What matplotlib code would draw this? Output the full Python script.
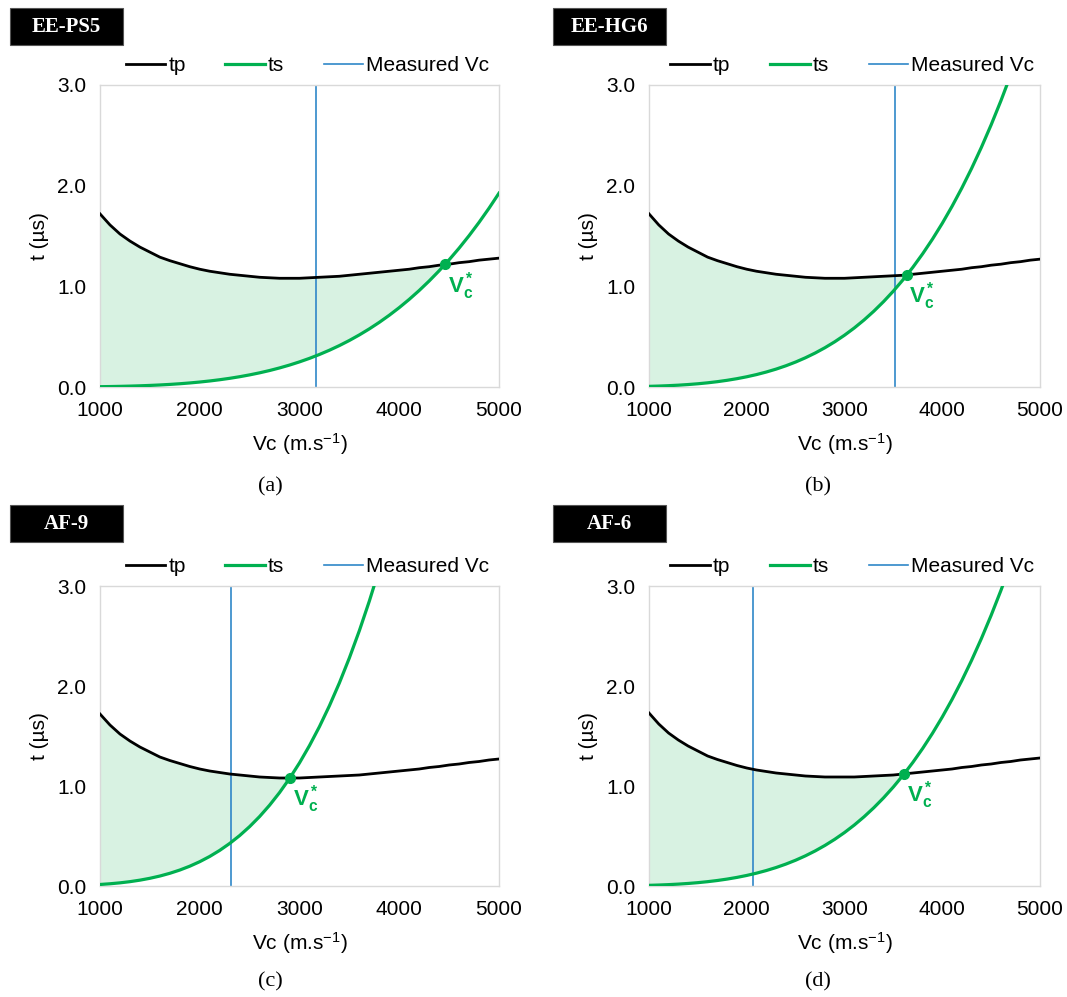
import matplotlib
matplotlib.use('Agg')
import matplotlib.pyplot as plt
from matplotlib.patches import Rectangle

plt.rcParams['font.family'] = 'Liberation Sans'
plt.rcParams['mathtext.fontset'] = 'custom'
plt.rcParams['mathtext.rm'] = 'Liberation Sans'
plt.rcParams['mathtext.bf'] = 'Liberation Sans:bold'
plt.rcParams['mathtext.it'] = 'Liberation Sans:italic'

# Cutting speed grid (m/s)
vc = [1000, 1100, 1200, 1300, 1400, 1500, 1600, 1700, 1800, 1900, 2000,
      2100, 2200, 2300, 2400, 2500, 2600, 2700, 2800, 2900, 3000,
      3100, 3200, 3300, 3400, 3500, 3600, 3700, 3800, 3900, 4000,
      4100, 4200, 4300, 4400, 4500, 4600, 4700, 4800, 4900, 5000]

# tp and ts (us) for each sample
tp_a = [1.72, 1.61, 1.52, 1.45, 1.39, 1.34, 1.29, 1.255, 1.225, 1.195, 1.17,
        1.15, 1.135, 1.12, 1.11, 1.10, 1.09, 1.085, 1.08, 1.08, 1.08,
        1.085, 1.09, 1.095, 1.10, 1.11, 1.12, 1.13, 1.14, 1.15, 1.16,
        1.17, 1.185, 1.195, 1.21, 1.22, 1.235, 1.245, 1.26, 1.27, 1.28]
ts_a = [0.0031, 0.0045, 0.0064, 0.0088, 0.0118, 0.0156, 0.0202, 0.0257, 0.0323, 0.0402, 0.0493,
        0.0599, 0.0722, 0.0862, 0.1022, 0.1204, 0.1408, 0.1637, 0.1894, 0.2179, 0.2496,
        0.2845, 0.3231, 0.3654, 0.4117, 0.4623, 0.5175, 0.5774, 0.6424, 0.7128, 0.7887,
        0.8706, 0.9587, 1.0533, 1.1548, 1.2634, 1.3795, 1.5034, 1.6355, 1.7761, 1.9256]
tp_b = [1.72, 1.61, 1.52, 1.45, 1.39, 1.34, 1.29, 1.255, 1.225, 1.195, 1.17,
        1.15, 1.135, 1.12, 1.11, 1.10, 1.09, 1.085, 1.08, 1.08, 1.08,
        1.085, 1.09, 1.095, 1.10, 1.105, 1.11, 1.12, 1.13, 1.14, 1.15,
        1.16, 1.17, 1.185, 1.195, 1.21, 1.22, 1.235, 1.245, 1.26, 1.27]
ts_b = [0.0064, 0.0093, 0.0132, 0.0181, 0.0244, 0.0321, 0.0416, 0.0530, 0.0667, 0.0828, 0.1016,
        0.1235, 0.1488, 0.1777, 0.2107, 0.2480, 0.2902, 0.3375, 0.3903, 0.4491, 0.5144,
        0.5864, 0.6658, 0.7531, 0.8486, 0.9529, 1.0666, 1.1901, 1.3241, 1.4690, 1.6256,
        1.7944, 1.9759, 2.1709, 2.3800, 2.6039, 2.8432, 3.0986, 3.3708, 3.6606, 3.9688]
tp_c = [1.72, 1.61, 1.52, 1.45, 1.39, 1.34, 1.29, 1.255, 1.225, 1.195, 1.17,
        1.15, 1.135, 1.12, 1.11, 1.10, 1.09, 1.085, 1.08, 1.08, 1.08,
        1.085, 1.09, 1.095, 1.10, 1.105, 1.11, 1.12, 1.13, 1.14, 1.15,
        1.16, 1.17, 1.185, 1.195, 1.21, 1.22, 1.235, 1.245, 1.26, 1.27]
ts_c = [0.0152, 0.0223, 0.0315, 0.0434, 0.0584, 0.0770, 0.0996, 0.1270, 0.1596, 0.1981, 0.2432,
        0.2956, 0.3561, 0.4254, 0.5043, 0.5938, 0.6946, 0.8078, 0.9343, 1.0751, 1.2312,
        1.4038, 1.5938, 1.8026, 2.0312, 2.2810, 2.5530, 2.8487, 3.1694, 3.5164, 3.8912,
        4.2952, 4.7298, 5.1966, 5.6971, 6.2330, 6.8057, 7.4171, 8.0688, 8.7625, 9.5000]
tp_d = [1.73, 1.62, 1.53, 1.46, 1.40, 1.35, 1.30, 1.265, 1.235, 1.205, 1.18,
        1.16, 1.145, 1.13, 1.12, 1.11, 1.10, 1.095, 1.09, 1.09, 1.09,
        1.09, 1.095, 1.10, 1.105, 1.11, 1.12, 1.13, 1.14, 1.15, 1.16,
        1.17, 1.185, 1.195, 1.21, 1.22, 1.235, 1.245, 1.26, 1.27, 1.28]
ts_d = [0.0066, 0.0097, 0.0137, 0.0189, 0.0254, 0.0334, 0.0433, 0.0551, 0.0693, 0.0860, 0.1056,
        0.1284, 0.1546, 0.1847, 0.2190, 0.2578, 0.3016, 0.3508, 0.4057, 0.4668, 0.5346,
        0.6095, 0.6921, 0.7827, 0.8820, 0.9904, 1.1085, 1.2370, 1.3762, 1.5269, 1.6896,
        1.8650, 2.0537, 2.2564, 2.4737, 2.7064, 2.9551, 3.2206, 3.5036, 3.8048, 4.1250]

samples = ['EE-PS5', 'EE-HG6', 'AF-9', 'AF-6']
captions = ['(a)', '(b)', '(c)', '(d)']
measured_vc = [3165, 3517, 2313, 2060]
vc_star = [4460, 3635, 2905, 3610]
t_star = [1.22, 1.115, 1.08, 1.12]
tp_all = [tp_a, tp_b, tp_c, tp_d]
ts_all = [ts_a, ts_b, ts_c, ts_d]

green = '#00b050'
blue = '#2f87c8'
fill = '#d8f2e2'

W, H = 1067, 997
fig = plt.figure(figsize=(W/100.0, H/100.0), dpi=100, facecolor='white')

# panel layout in pixels: left, top, right, bottom
boxes = [(100, 85, 499, 387), (649, 85, 1040, 387),
         (100, 586, 499, 886), (649, 586, 1040, 886)]
label_boxes = [(10, 8, 123, 45), (553, 8, 666, 45),
               (10, 505, 123, 542), (553, 505, 666, 542)]
caption_pos = [(270, 487), (818, 487), (270, 982), (818, 982)]

for i in range(4):
    l, t, r, b = boxes[i]
    ax = fig.add_axes([l/W, 1-b/H, (r-l)/W, (b-t)/H])
    tp = tp_all[i]
    ts = ts_all[i]

    ax.fill_between(vc, ts, tp, where=[s <= p for s, p in zip(ts, tp)],
                    interpolate=True, color=fill, linewidth=0, zorder=1)
    ax.plot(vc, tp, color='black', lw=2.0, label='tp', zorder=3)
    ax.plot(vc, ts, color=green, lw=2.3, label='ts', zorder=4)
    ax.axvline(measured_vc[i], color=blue, lw=1.2, label='Measured Vc', zorder=2)
    ax.plot([vc_star[i]], [t_star[i]], 'o', color=green, ms=7, zorder=5)
    ax.annotate(r'$\mathbf{V_c^*}$', (vc_star[i], t_star[i]),
                xytext=(2, -4), textcoords='offset points',
                ha='left', va='top', color=green, fontsize=16)

    ax.set_xlim(1000, 5000)
    ax.set_ylim(0, 3)
    ax.set_xticks([1000, 2000, 3000, 4000, 5000])
    ax.set_yticks([0, 1, 2, 3])
    ax.set_yticklabels(['0.0', '1.0', '2.0', '3.0'])
    ax.tick_params(length=0, labelsize=15, pad=10)
    for sp in ax.spines.values():
        sp.set_color('#d9d9d9')
        sp.set_linewidth(1.0)
    ax.set_xlabel('Vc (m.s$^{\\mathregular{-1}}$)', fontsize=15, labelpad=8)
    ax.set_ylabel('t (µs)', fontsize=15, labelpad=6)

    ax.legend(loc='lower center', bbox_to_anchor=(0.52, 1.025), ncol=3,
              frameon=False, fontsize=15, handlelength=1.9,
              handletextpad=0.15, columnspacing=1.9, borderaxespad=0.0,
              borderpad=0.1)

    # sample tag
    bl, bt, br, bb = label_boxes[i]
    fig.add_artist(Rectangle((bl/W, 1-bb/H), (br-bl)/W, (bb-bt)/H,
                             transform=fig.transFigure, facecolor='black',
                             edgecolor='#555555', lw=0.8))
    fig.text((bl+br)/2/W, 1-(bt+bb)/2/H, samples[i], color='white',
             fontsize=15, fontweight='bold', family='Liberation Serif',
             ha='center', va='center')

    cx, cy = caption_pos[i]
    fig.text(cx/W, 1-cy/H, captions[i], fontsize=16,
             family='Liberation Serif', ha='center', va='center')

fig.savefig('out.png', dpi=100, facecolor='white')
